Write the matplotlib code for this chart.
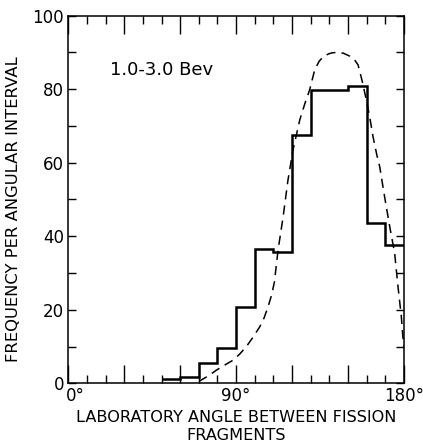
import numpy as np
import matplotlib
matplotlib.use("Agg")
from matplotlib import pyplot as plt
from matplotlib.ticker import MultipleLocator, FixedLocator
from matplotlib.transforms import ScaledTranslation

# histogram of fission-fragment angles, 10 degree bins
bin_edges = [50, 60, 70, 80, 90, 100, 110, 120, 130, 140, 150, 160, 170, 180]
counts = [1.2, 1.6, 5.4, 9.7, 20.8, 36.5, 35.6, 67.5, 79.8, 79.8, 81.0, 43.5, 37.5]

# calculated distribution (dashed)
curve_angle = [70, 75, 79.5, 84, 88.4, 92, 95.5, 99, 102.7, 105, 107.1, 109, 110.5,
               112.5, 115.2, 117.8, 120.5, 122.5, 124.1, 126.8, 129.4, 132.1, 134.5,
               136.6, 139.5, 141.5, 143.8, 147.5, 150.9, 153.5, 155.4, 157.7, 159.8,
               161.6, 163.4, 165.5, 167, 169.6, 172.3, 175, 176.8, 178.6, 179.4, 180]
curve_freq = [0.5, 2.0, 3.6, 5.0, 6.3, 8.0, 10.0, 12.5, 15.4, 17.8, 20.8, 24.0, 27.5,
              36.3, 45.3, 55.3, 63.5, 68.0, 71.6, 76.0, 79.8, 85.2, 87.6,
              88.8, 89.6, 89.9, 90.0, 89.8, 89.0, 88.0, 86.6, 82.0, 77.1,
              72.5, 67.1, 62.0, 58.9, 50.8, 42.8, 35.4, 26.3, 18.1, 12.7, 10.0]

x_ticks = [0, 30, 60, 90, 120, 150, 180]
x_ticklabels = ["0°", "", "", "90°", "", "", "180°"]
y_ticks = [0, 20, 40, 60, 80, 100]

plt.rcParams['font.family'] = ['DejaVu Sans']

fig = plt.figure(figsize=(4.23, 4.46), dpi=100)
ax = fig.add_axes([0.1615, 0.1406, 0.7935, 0.8242])

ax.stairs(counts, bin_edges, baseline=None, color='black', linewidth=1.8)
ax.plot(curve_angle, curve_freq, color='black', linewidth=1.1,
        linestyle=(0, (6, 4)))

ax.set_xlim(0, 180)
ax.set_ylim(0, 100)

ax.xaxis.set_major_locator(FixedLocator(x_ticks))
ax.set_xticklabels(x_ticklabels)
ax.xaxis.set_minor_locator(MultipleLocator(10))
ax.set_yticks(y_ticks)
ax.yaxis.set_minor_locator(MultipleLocator(10))

ax.tick_params(axis='x', which='major', direction='in', length=13, width=1.0,
               top=True, bottom=True, labelsize=12, pad=3)
ax.tick_params(axis='x', which='minor', direction='in', length=6, width=1.0,
               top=True, bottom=True)
ax.tick_params(axis='y', which='both', direction='in', length=5.5, width=1.0,
               left=True, right=True)
ax.tick_params(axis='y', which='major', labelsize=12, pad=3)

# nudge the 0° label clear of the y-axis "0"
lbl0 = ax.get_xticklabels()[0]
lbl0.set_transform(lbl0.get_transform() + ScaledTranslation(7 / 100, 0, fig.dpi_scale_trans))

for sp in ax.spines.values():
    sp.set_linewidth(1.1)

ax.set_ylabel("FREQUENCY PER ANGULAR INTERVAL", fontsize=11.8)
ax.yaxis.set_label_coords(-0.141, 0.474)
ax.set_xlabel("LABORATORY ANGLE BETWEEN FISSION\nFRAGMENTS", fontsize=11.6,
              linespacing=1.3, labelpad=3)

ax.text(22.3, 85.2, "1.0-3.0 Bev", fontsize=13, va='center', ha='left')

fig.savefig("out.png", dpi=100)
